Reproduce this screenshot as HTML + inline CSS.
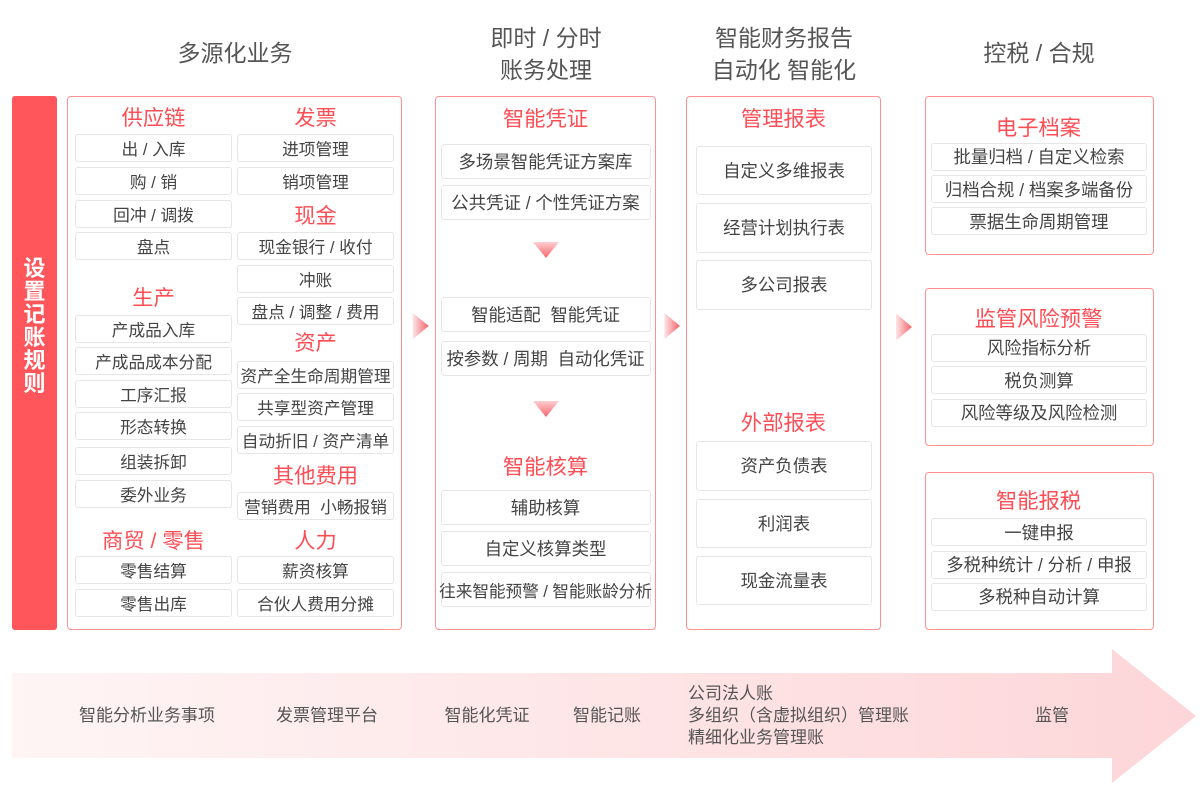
<!DOCTYPE html>
<html><head><meta charset="utf-8">
<style>
*{margin:0;padding:0;box-sizing:border-box}
body{width:1200px;height:788px;background:#fff;position:relative;overflow:hidden;font-family:"Liberation Sans","Noto Sans CJK SC",sans-serif}
.a{position:absolute}
.hd{position:absolute;font-size:23px;color:#555;text-align:center;line-height:32px;white-space:nowrap}
.box{position:absolute;border:1.5px solid #ff9094;border-radius:4px;background:#fff}
.t{position:absolute;font-size:21.3px;color:#ff4d55;text-align:center;height:26px;line-height:26px;white-space:nowrap}
.i{position:absolute;border:1px solid #e6e6e6;border-radius:3px;background:#fff;font-size:16.7px;color:#444;display:flex;align-items:center;justify-content:center;white-space:nowrap}
.j{font-size:17.4px}
.bt{position:absolute;font-size:17px;color:#555;white-space:nowrap;line-height:22px}
</style></head><body>

<!-- headers -->
<div class="hd" style="left:135px;width:200px;top:37px">多源化业务</div>
<div class="hd" style="left:446px;width:200px;top:22px">即时 / 分时</div>
<div class="hd" style="left:446px;width:200px;top:54px">账务处理</div>
<div class="hd" style="left:684px;width:200px;top:22px">智能财务报告</div>
<div class="hd" style="left:684px;width:200px;top:54px">自动化 智能化</div>
<div class="hd" style="left:939px;width:200px;top:37px">控税 / 合规</div>

<!-- red bar -->
<div class="a" style="left:12px;top:96px;width:45px;height:534px;background:#ff565b;border-radius:3px"></div>
<div class="a" style="left:12px;top:257px;width:45px;text-align:center;color:#fff;font-weight:bold;font-size:22px;line-height:23px">设<br>置<br>记<br>账<br>规<br>则</div>

<!-- box1 -->
<div class="box" style="left:67px;top:96px;width:335px;height:534px"></div>
<div class="t" style="left:75px;width:157px;top:105px">供应链</div>
<div class="i" style="left:75px;width:157px;top:134px;height:28px">出 / 入库</div>
<div class="i" style="left:75px;width:157px;top:167px;height:28px">购 / 销</div>
<div class="i" style="left:75px;width:157px;top:199.5px;height:28px">回冲 / 调拨</div>
<div class="i" style="left:75px;width:157px;top:232px;height:28px">盘点</div>
<div class="t" style="left:75px;width:157px;top:285px">生产</div>
<div class="i" style="left:75px;width:157px;top:314.5px;height:28px">产成品入库</div>
<div class="i" style="left:75px;width:157px;top:347px;height:28px">产成品成本分配</div>
<div class="i" style="left:75px;width:157px;top:379.5px;height:28px">工序汇报</div>
<div class="i" style="left:75px;width:157px;top:412px;height:28px">形态转换</div>
<div class="i" style="left:75px;width:157px;top:447px;height:28px">组装拆卸</div>
<div class="i" style="left:75px;width:157px;top:479.5px;height:28px">委外业务</div>
<div class="t" style="left:75px;width:157px;top:528px">商贸 / 零售</div>
<div class="i" style="left:75px;width:157px;top:556px;height:28px">零售结算</div>
<div class="i" style="left:75px;width:157px;top:589px;height:28px">零售出库</div>

<div class="t" style="left:237px;width:157px;top:105px">发票</div>
<div class="i" style="left:237px;width:157px;top:134px;height:28px">进项管理</div>
<div class="i" style="left:237px;width:157px;top:167px;height:28px">销项管理</div>
<div class="t" style="left:237px;width:157px;top:203px">现金</div>
<div class="i" style="left:237px;width:157px;top:232px;height:28px">现金银行 / 收付</div>
<div class="i" style="left:237px;width:157px;top:264.5px;height:28px">冲账</div>
<div class="i" style="left:237px;width:157px;top:297px;height:28px">盘点 / 调整 / 费用</div>
<div class="t" style="left:237px;width:157px;top:330px">资产</div>
<div class="i" style="left:237px;width:157px;top:361px;height:28px">资产全生命周期管理</div>
<div class="i" style="left:237px;width:157px;top:393px;height:28px">共享型资产管理</div>
<div class="i" style="left:237px;width:157px;top:425.5px;height:28px">自动折旧 / 资产清单</div>
<div class="t" style="left:237px;width:157px;top:463px">其他费用</div>
<div class="i" style="left:237px;width:157px;top:491.5px;height:28px">营销费用&nbsp;&nbsp;小畅报销</div>
<div class="t" style="left:237px;width:157px;top:528px">人力</div>
<div class="i" style="left:237px;width:157px;top:556px;height:28px">薪资核算</div>
<div class="i" style="left:237px;width:157px;top:589px;height:28px">合伙人费用分摊</div>

<!-- box2 -->
<div class="box" style="left:435px;top:96px;width:221px;height:534px"></div>
<div class="t" style="left:440px;width:211px;top:106px">智能凭证</div>
<div class="i j" style="left:440.5px;width:210px;top:143.5px;height:35px">多场景智能凭证方案库</div>
<div class="i j" style="left:440.5px;width:210px;top:185px;height:35px">公共凭证 / 个性凭证方案</div>
<div class="i j" style="left:440.5px;width:210px;top:296.5px;height:35px">智能适配&nbsp;&nbsp;智能凭证</div>
<div class="i j" style="left:440.5px;width:210px;top:341px;height:35px">按参数 / 周期&nbsp;&nbsp;自动化凭证</div>
<div class="t" style="left:440px;width:211px;top:454px">智能核算</div>
<div class="i j" style="left:440.5px;width:210px;top:489.5px;height:35px">辅助核算</div>
<div class="i j" style="left:440.5px;width:210px;top:530.5px;height:35px">自定义核算类型</div>
<div class="i" style="left:440.5px;width:210px;top:572px;height:35px;letter-spacing:-0.1px">往来智能预警 / 智能账龄分析</div>

<svg class="a" style="left:0;top:0" width="1200" height="788">
<defs>
<linearGradient id="gd" x1="0" y1="0" x2="0" y2="1"><stop offset="0" stop-color="#fdcfd1"/><stop offset="1" stop-color="#f7656b"/></linearGradient>
<linearGradient id="gr" x1="0" y1="0" x2="1" y2="0"><stop offset="0" stop-color="#fde6e7"/><stop offset="1" stop-color="#f6626a"/></linearGradient>
<linearGradient id="gb" x1="0" y1="0" x2="1" y2="0"><stop offset="0" stop-color="#fff5f5"/><stop offset="1" stop-color="#fdd6d9"/></linearGradient>
</defs>
<polygon points="533,242 559,242 546,258" fill="url(#gd)"/>
<polygon points="533,401 559,401 546,417" fill="url(#gd)"/>
<polygon points="412.7,312.7 428.7,326 412.7,339.3" fill="url(#gr)"/>
<polygon points="664.3,312.7 680,326 664.3,339.3" fill="url(#gr)"/>
<polygon points="896,313.3 912,327 896,340.5" fill="url(#gr)"/>
<polygon points="12,673 1112,673 1112,649 1196,716 1112,783 1112,758 12,758" fill="url(#gb)"/>
</svg>

<!-- box3 -->
<div class="box" style="left:686px;top:96px;width:195px;height:534px"></div>
<div class="t" style="left:686px;width:195px;top:106px">管理报表</div>
<div class="i j" style="left:696px;width:176px;top:145.5px;height:49.5px">自定义多维报表</div>
<div class="i j" style="left:696px;width:176px;top:203px;height:49.5px">经营计划执行表</div>
<div class="i j" style="left:696px;width:176px;top:260px;height:49.5px">多公司报表</div>
<div class="t" style="left:686px;width:195px;top:410px">外部报表</div>
<div class="i j" style="left:696px;width:176px;top:441px;height:49.5px">资产负债表</div>
<div class="i j" style="left:696px;width:176px;top:498.5px;height:49.5px">利润表</div>
<div class="i j" style="left:696px;width:176px;top:555.5px;height:49.5px">现金流量表</div>

<!-- box4 -->
<div class="box" style="left:924.5px;top:96px;width:229px;height:159px"></div>
<div class="t" style="left:924px;width:229px;top:115px">电子档案</div>
<div class="i j" style="left:931px;width:216px;top:142.5px;height:28px">批量归档 / 自定义检索</div>
<div class="i j" style="left:931px;width:216px;top:175px;height:28px">归档合规 / 档案多端备份</div>
<div class="i j" style="left:931px;width:216px;top:207px;height:28px">票据生命周期管理</div>

<!-- box5 -->
<div class="box" style="left:924.5px;top:287.5px;width:229px;height:158.5px"></div>
<div class="t" style="left:924px;width:229px;top:305.5px">监管风险预警</div>
<div class="i j" style="left:931px;width:216px;top:333.5px;height:28px">风险指标分析</div>
<div class="i j" style="left:931px;width:216px;top:366px;height:28px">税负测算</div>
<div class="i j" style="left:931px;width:216px;top:398.5px;height:28px">风险等级及风险检测</div>

<!-- box6 -->
<div class="box" style="left:924.5px;top:471.5px;width:229px;height:158px"></div>
<div class="t" style="left:924px;width:229px;top:488px">智能报税</div>
<div class="i j" style="left:931px;width:216px;top:518px;height:28px">一键申报</div>
<div class="i j" style="left:931px;width:216px;top:550.5px;height:28px">多税种统计 / 分析 / 申报</div>
<div class="i j" style="left:931px;width:216px;top:582.5px;height:28px">多税种自动计算</div>

<!-- bottom arrow labels -->
<div class="bt" style="left:47px;width:200px;text-align:center;top:705px">智能分析业务事项</div>
<div class="bt" style="left:227px;width:200px;text-align:center;top:705px">发票管理平台</div>
<div class="bt" style="left:387px;width:200px;text-align:center;top:705px">智能化凭证</div>
<div class="bt" style="left:507px;width:200px;text-align:center;top:705px">智能记账</div>
<div class="bt" style="left:688px;top:683px">公司法人账</div>
<div class="bt" style="left:688px;top:705px">多组织（含虚拟组织）管理账</div>
<div class="bt" style="left:688px;top:727px">精细化业务管理账</div>
<div class="bt" style="left:952px;width:200px;text-align:center;top:705px">监管</div>

</body></html>
